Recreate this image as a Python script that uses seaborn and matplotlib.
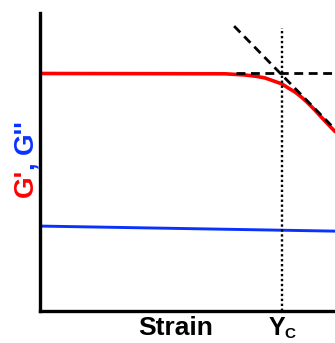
import matplotlib
matplotlib.use("Agg")
import matplotlib.pyplot as plt
import seaborn as sns
import pandas as pd

sns.set_style("white")
plt.rcParams["font.family"] = ["Liberation Sans", "DejaVu Sans"]
plt.rcParams["text.color"] = "black"

# Storage modulus G' (red): plateau, then drop past the critical strain
g1_strain = [0.0, 6.27, 6.95, 7.30, 7.63, 8.20, 8.42, 8.64, 8.86, 9.08,
             9.32, 9.56, 10.0]
g1_modulus = [7.97, 7.96, 7.92, 7.88, 7.82, 7.62, 7.48, 7.35, 7.18, 6.98,
              6.74, 6.48, 6.02]

# Loss modulus G'' (blue)
g2_strain = [0.0, 10.0]
g2_modulus = [2.85, 2.68]

# Construction lines: plateau extension and tangent to the decay
plateau_x = [6.64, 10.0]
plateau_y = [7.97, 7.97]
tangent_x = [6.58, 10.0]
tangent_y = [9.56, 6.10]
gamma_c = 8.2
gamma_c_top = 9.5

g1 = pd.DataFrame({"strain": g1_strain, "modulus": g1_modulus})
g2 = pd.DataFrame({"strain": g2_strain, "modulus": g2_modulus})

fig = plt.figure(figsize=(3.35, 3.43), dpi=100)
ax = fig.add_axes([40 / 335, 32 / 343, 295 / 335, 298 / 343])

sns.lineplot(data=g1, x="strain", y="modulus", ax=ax, color="#ff0000",
             lw=2.6, sort=False, estimator=None)
sns.lineplot(data=g2, x="strain", y="modulus", ax=ax, color="#0a32ff",
             lw=2.1, sort=False, estimator=None)
ax.plot(plateau_x, plateau_y, color="black", lw=2.0, ls=(0, (3.2, 2.0)))
ax.plot(tangent_x, tangent_y, color="black", lw=2.0, ls=(0, (3.2, 2.0)))
ax.plot([gamma_c, gamma_c], [0, gamma_c_top], color="black", lw=1.7,
        ls=(0, (1, 1.1)))

ax.set_xlim(0, 10)
ax.set_ylim(0, 10)
ax.set_xticks([])
ax.set_yticks([])
ax.set_xlabel("")
ax.set_ylabel("")
for side in ("top", "right"):
    ax.spines[side].set_visible(False)
for side in ("left", "bottom"):
    ax.spines[side].set_linewidth(2.4)
    ax.spines[side].set_color("black")

# Axis titles
ax.text(4.59, -0.58, "Strain", ha="center", va="center", fontsize=19,
        fontweight="bold", color="black", clip_on=False)
ax.text(7.74, -0.57, "Y", ha="left", va="center", fontsize=18,
        fontweight="bold", color="black", clip_on=False)
ax.text(8.30, -0.76, "C", ha="left", va="center", fontsize=11,
        fontweight="bold", color="black", clip_on=False)

# Two-colour vertical label G', G'' (anchored on a shared baseline)
label_kw = dict(rotation=90, rotation_mode="anchor", ha="left",
                va="baseline", fontsize=20, fontweight="bold")
base_x = 33 / 335
fig.text(base_x, 1 - 197 / 343, "G'", color="#ff0000", **label_kw)
fig.text(base_x, 1 - 169 / 343, ",", color="#0a32ff", **label_kw)
fig.text(base_x, 1 - 154 / 343, "G''", color="#0a32ff", **label_kw)

fig.savefig("out.png", dpi=100)
